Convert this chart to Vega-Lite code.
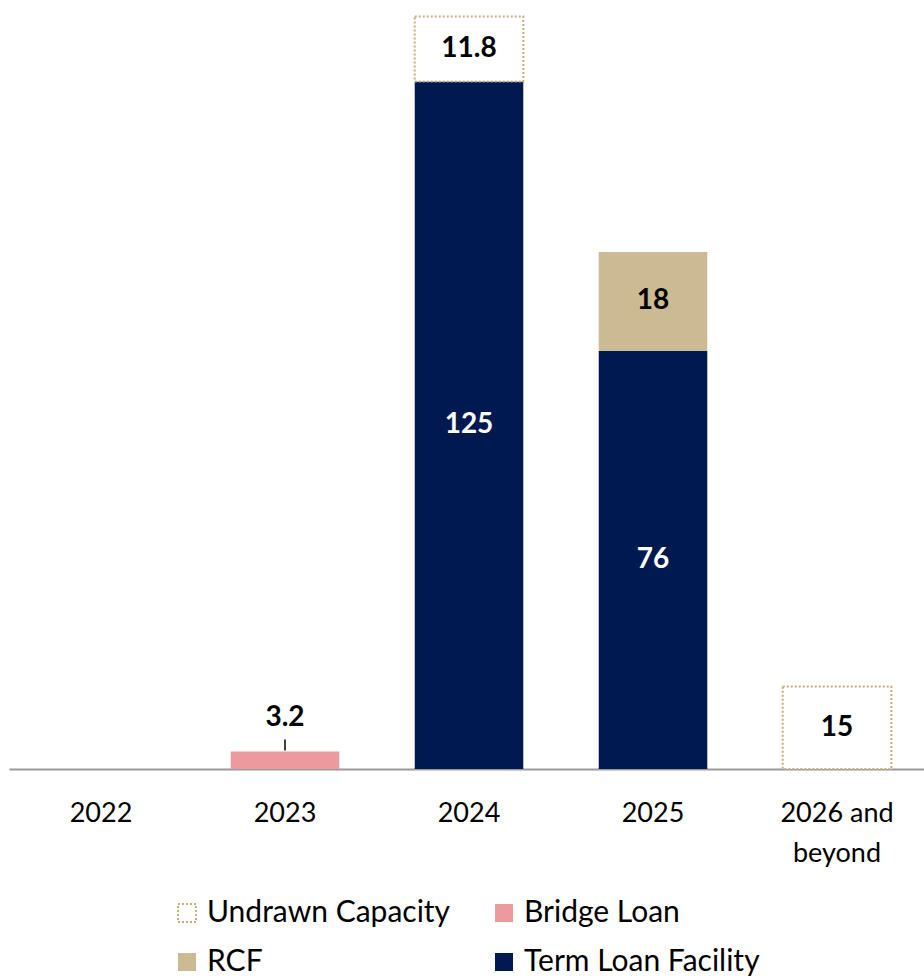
{
  "$schema": "https://vega.github.io/schema/vega-lite/v6.json",
  "autosize": "none",
  "padding": {"left": 9, "top": 0, "right": 0, "bottom": 208},
  "width": 920,
  "height": 769,
  "background": "white",
  "config": {
    "view": {"stroke": null},
    "font": "Lato",
    "text": {"font": "Lato"}
  },
  "data": {
    "values": [
      {"year": "2023", "series": "Bridge Loan", "value": 3.2},
      {"year": "2024", "series": "Term Loan Facility", "value": 125},
      {"year": "2024", "series": "Undrawn Capacity", "value": 11.8},
      {"year": "2025", "series": "Term Loan Facility", "value": 76},
      {"year": "2025", "series": "RCF", "value": 18},
      {"year": "2026 and beyond", "series": "Undrawn Capacity", "value": 15}
    ]
  },
  "transform": [
    {"calculate": "indexof(['Term Loan Facility','Bridge Loan','RCF','Undrawn Capacity'], datum.series)", "as": "ord"},
    {"stack": "value", "groupby": ["year"], "sort": [{"field": "ord", "order": "ascending"}], "as": ["v0", "v1"]},
    {"calculate": "(datum.v0 + datum.v1) / 2", "as": "vmid"}
  ],
  "encoding": {
    "x": {
      "field": "year",
      "type": "nominal",
      "scale": {"domain": ["2022", "2023", "2024", "2025", "2026 and beyond"], "paddingInner": 0.41, "paddingOuter": 0.205},
      "axis": {
        "title": null,
        "ticks": false,
        "labelAngle": 0,
        "labelFontSize": 27,
        "labelColor": "#000000",
        "labelPadding": 31,
        "labelLineHeight": 40,
        "labelExpr": "datum.value == '2026 and beyond' ? ['2026 and', 'beyond'] : datum.value",
        "domainColor": "#9a9a9a",
        "domainWidth": 2,
        "labelFont": "Lato"
      }
    }
  },
  "layer": [
    {
      "mark": {"type": "bar"},
      "encoding": {
        "y": {"field": "v1", "type": "quantitative", "scale": {"domain": [0, 139.8], "nice": false, "zero": true}, "axis": null},
        "y2": {"field": "v0"},
        "color": {
          "field": "series",
          "type": "nominal",
          "scale": {
            "domain": ["Undrawn Capacity", "Bridge Loan", "RCF", "Term Loan Facility"],
            "range": ["#ffffff", "#eb9b9d", "#cbba92", "#001a4f"]
          },
          "legend": {
            "title": null,
            "orient": "none",
            "legendX": 163,
            "legendY": 898,
            "direction": "horizontal",
            "columns": 2,
            "columnPadding": 38,
            "rowPadding": 19,
            "symbolType": "square",
            "symbolSize": 324,
            "symbolStrokeColor": "#c4ad7e",
            "symbolStrokeWidth": 2,
            "labelFontSize": 30,
            "labelColor": "#000000",
            "labelOffset": 5,
            "labelLimit": 500,
            "labelFont": "Lato",
            "padding": 0,
            "encode": {
              "symbols": {
                "update": {
                  "stroke": {"value": "#c4ad7e"},
                  "strokeWidth": {"signal": "datum.label === 'Undrawn Capacity' ? 2 : 0"},
                  "strokeDash": {"signal": "datum.label === 'Undrawn Capacity' ? [2, 2] : [1, 0]"}
                }
              }
            }
          }
        },
        "stroke": {"condition": {"test": "datum.series === 'Undrawn Capacity'", "value": "#c4ad7e"}, "value": null},
        "strokeDash": {"condition": {"test": "datum.series === 'Undrawn Capacity'", "value": [2, 2]}, "value": [1, 0]},
        "strokeWidth": {"condition": {"test": "datum.series === 'Undrawn Capacity'", "value": 2}, "value": 0}
      }
    },
    {
      "transform": [{"filter": "datum.series !== 'Bridge Loan'"}],
      "mark": {"type": "text", "fontSize": 28, "fontWeight": "bold", "baseline": "middle", "align": "center"},
      "encoding": {
        "y": {"field": "vmid", "type": "quantitative"},
        "text": {"field": "value", "type": "quantitative"},
        "color": {"condition": {"test": "datum.series === 'Term Loan Facility'", "value": "#ffffff"}, "value": "#000000"}
      }
    },
    {
      "transform": [{"filter": "datum.series === 'Bridge Loan'"}],
      "mark": {"type": "text", "fontSize": 28, "fontWeight": "bold", "baseline": "middle", "align": "center", "dy": -33, "color": "#000000"},
      "encoding": {
        "y": {"field": "v1", "type": "quantitative"},
        "text": {"field": "value", "type": "quantitative"}
      }
    },
    {
      "transform": [{"filter": "datum.series === 'Bridge Loan'"}],
      "mark": {"type": "rule", "color": "#000000", "strokeWidth": 1.5, "yOffset": -1, "y2Offset": -12},
      "encoding": {
        "y": {"field": "v1", "type": "quantitative"},
        "y2": {"field": "v1"}
      }
    }
  ]
}
